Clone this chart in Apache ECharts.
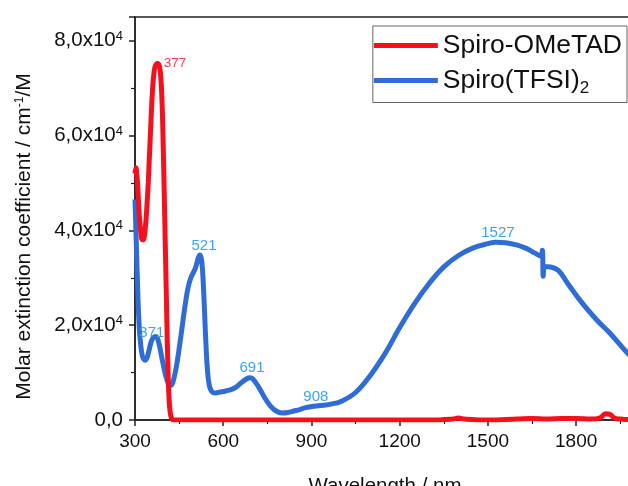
<!DOCTYPE html>
<html>
<head>
<meta charset="utf-8">
<script src="https://cdn.jsdelivr.net/npm/echarts@6/dist/echarts.min.js"></script>
<style>
  html, body { margin: 0; padding: 0; background: #fff; }
  #chart { width: 628px; height: 486px; }
</style>
</head>
<body>
<div id="chart"></div>
<script>
// Spiro-OMeTAD
const redX = [300, 303, 308, 312, 316, 320, 325, 330, 335, 340, 345, 350, 355, 360, 365, 370, 377, 382, 386, 390, 394, 398, 402, 406, 410, 414, 418, 422, 426, 430, 500, 700, 900, 1100, 1300, 1380, 1400, 1420, 1500, 1600, 1650, 1700, 1750, 1800, 1850, 1880, 1900, 1915, 1930, 1950, 1975, 2000]
const redY = [52000, 53200, 50500, 46000, 42000, 39500, 38000, 38200, 40500, 44500, 50000, 57000, 64000, 70000, 73500, 74800, 75200, 74800, 73500, 70000, 63000, 52000, 40000, 28000, 16000, 7000, 2500, 800, 200, 0, 0, 0, 0, 0, 0, 200, 400, 200, 0, 200, 300, 200, 300, 300, 200, 400, 1300, 1200, 400, 200, 100, 0]

// Spiro(TFSI)2
const blueX = [300, 305, 310, 315, 320, 325, 330, 335, 340, 345, 350, 355, 360, 365, 370, 375, 380, 385, 390, 395, 400, 405, 410, 415, 420, 425, 430, 440, 450, 460, 470, 480, 490, 500, 505, 510, 515, 521, 527, 532, 537, 542, 547, 552, 558, 565, 575, 590, 600, 620, 640, 660, 680, 691, 700, 720, 740, 760, 780, 800, 820, 840, 860, 880, 908, 940, 970, 1000, 1050, 1100, 1150, 1200, 1250, 1300, 1350, 1400, 1450, 1500, 1527, 1560, 1600, 1630, 1660, 1680, 1685, 1688, 1692, 1710, 1740, 1770, 1820, 1870, 1915, 1975, 2000]
const blueY = [46500, 36000, 26000, 19000, 15500, 13500, 12800, 12600, 13000, 14000, 15300, 16500, 17200, 17500, 17600, 17400, 16500, 15200, 13500, 12000, 10500, 9200, 8200, 7600, 7300, 7400, 8200, 11000, 15000, 19500, 24000, 27800, 30000, 31300, 32000, 33000, 34200, 34800, 33500, 29000, 22000, 15000, 10000, 7500, 6300, 5800, 5700, 5900, 6000, 6300, 6800, 7800, 8700, 8900, 8700, 7000, 4800, 3000, 1900, 1500, 1600, 1900, 2200, 2600, 2900, 3100, 3400, 3900, 5800, 9400, 14000, 19500, 24500, 28800, 32300, 34700, 36300, 37200, 37500, 37400, 36900, 36200, 35200, 34600, 35800, 30300, 32400, 32300, 31500, 28900, 24700, 21100, 18300, 14100, 12800]

// peak labels
const redPeaks = [[377, 75200]]
const bluePeaks = [[371, 17600], [521, 34800], [691, 8900], [908, 2900], [1527, 37500]]

const zip = (xs, ys) => xs.map((x, i) => [x, ys[i]])

const chart = echarts.init(document.getElementById('chart'))

const font = 'Liberation Sans, Arial'

const yFmt = function (v) {
  if (v === 0) return '0,0'
  return (v / 10000).toFixed(1).replace('.', ',') + 'x10{sup|4}'
}

const option = {
  animation: false,
  grid: {
    left: 135, top: 17, right: -7, bottom: 66,
    outerBoundsMode: 'none',
    containLabel: false,
    show: true, borderColor: '#222', borderWidth: 1.5
  },
  legend: {
    orient: 'vertical',
    right: 1,
    top: 26,
    padding: [6, 5, 6, 1],
    itemGap: 8,
    itemWidth: 64,
    itemHeight: 5,
    icon: 'rect',
    borderColor: '#666',
    borderWidth: 1,
    backgroundColor: '#fff',
    textStyle: {
      fontSize: 26.5, color: '#111', fontFamily: font,
      rich: {
        sub: { fontSize: 17, verticalAlign: 'bottom', padding: [15, 0, 0, 0], color: '#111', fontFamily: font }
      }
    },
    formatter: function (name) {
      return name === 'Spiro(TFSI)2' ? 'Spiro(TFSI){sub|2}' : name
    },
    data: ['Spiro-OMeTAD', 'Spiro(TFSI)2']
  },
  xAxis: {
    type: 'value',
    min: 300,
    max: 2000,
    interval: 300,
    name: 'Wavelength / nm',
    nameLocation: 'middle',
    nameGap: 56,
    nameTextStyle: { fontSize: 20.5, color: '#111', fontFamily: font },
    axisLine: { lineStyle: { color: '#222', width: 1.5 } },
    axisTick: { inside: false, length: 6, lineStyle: { color: '#222', width: 1.5 } },
    minorTick: { show: true, splitNumber: 2, length: 4, lineStyle: { color: '#222', width: 1.2 } },
    splitLine: { show: false },
    axisLabel: {
      fontSize: 19, color: '#111', margin: 12, fontFamily: font, showMaxLabel: false,
      formatter: v => String(v)
    }
  },
  yAxis: {
    type: 'value',
    min: 0,
    max: 85000,
    interval: 20000,
    name: 'Molar extinction coefficient / cm{sup|-1}/M',
    nameLocation: 'middle',
    nameRotate: 90,
    nameGap: 100,
    nameTextStyle: {
      fontSize: 21, color: '#111', fontFamily: font,
      padding: [0, 36, 0, 0],
      rich: { sup: { fontSize: 12, verticalAlign: 'top', padding: [0, 0, 9, 0], color: '#111', fontFamily: font } }
    },
    axisLine: { show: true, lineStyle: { color: '#222', width: 1.5 } },
    axisTick: { inside: false, length: 6, lineStyle: { color: '#222', width: 1.5 } },
    minorTick: { show: true, splitNumber: 2, length: 4, lineStyle: { color: '#222', width: 1.2 } },
    splitLine: { show: false },
    axisLabel: {
      fontSize: 20.5, color: '#111', margin: 12, fontFamily: font,
      showMaxLabel: false,
      formatter: yFmt,
      rich: { sup: { fontSize: 13, verticalAlign: 'top', padding: [0, 0, 9, 0], color: '#111', fontFamily: font } }
    }
  },
  series: [
    {
      name: 'Spiro-OMeTAD',
      type: 'line',
      data: zip(redX, redY),
      showSymbol: false,
      symbol: 'none',
      smooth: 0.4,
      z: 3,
      lineStyle: { color: '#f5101c', width: 5 },
      itemStyle: { color: '#f5101c' },
      markPoint: {
        symbol: 'circle', symbolSize: 0,
        label: {
          show: true, position: 'right', distance: 6, offset: [0, 0],
          fontSize: 13.5, color: '#ff3a4a', fontFamily: font,
          formatter: p => String(p.data.coord[0])
        },
        data: redPeaks.map(p => ({ coord: p }))
      }
    },
    {
      name: 'Spiro(TFSI)2',
      type: 'line',
      data: zip(blueX, blueY),
      showSymbol: false,
      symbol: 'none',
      smooth: 0.4,
      z: 2,
      lineStyle: { color: '#2f6cd6', width: 5 },
      itemStyle: { color: '#2f6cd6' },
      markPoint: {
        symbol: 'circle', symbolSize: 0,
        label: {
          show: true, position: 'top', distance: 2,
          fontSize: 15, color: '#3aa4ee', fontFamily: font,
          formatter: p => String(p.data.coord[0])
        },
        data: bluePeaks.map((p, i) => ({
          coord: p,
          label: { offset: i === 0 ? [-4, 6] : (i === 1 ? [4, 0] : [2, 0]) }
        }))
      }
    }
  ]
}

chart.setOption(option)
</script>
</body>
</html>
